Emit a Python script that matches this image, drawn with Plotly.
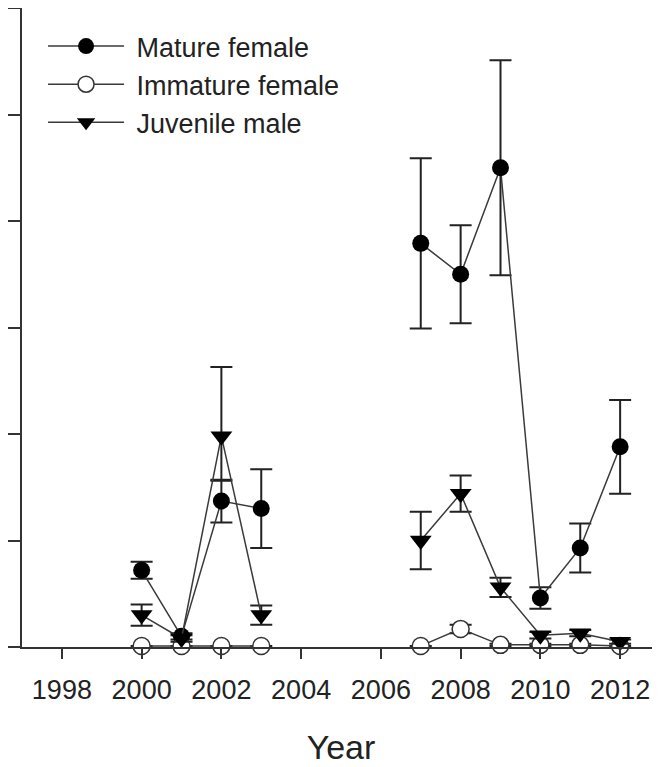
import plotly.graph_objects as go

# Years (2004-2006 not sampled -> gaps in the lines)
years = [2000, 2001, 2002, 2003, 2004, 2005, 2006, 2007, 2008, 2009, 2010, 2011, 2012]

# mean values (unlabelled y axis)
mature_female = [0.72, 0.10, 1.37, 1.30, None, None, None, 3.79, 3.50, 4.50, 0.46, 0.93, 1.88]
mature_female_err = [0.08, 0.03, 0.20, 0.37, None, None, None, 0.80, 0.46, 1.01, 0.10, 0.23, 0.44]

immature_female = [0.01, 0.01, 0.01, 0.01, None, None, None, 0.01, 0.17, 0.02, 0.02, 0.02, 0.01]
immature_female_err = [0.0, 0.0, 0.0, 0.0, None, None, None, 0.0, 0.04, 0.01, 0.01, 0.01, 0.0]

juvenile_male = [0.30, 0.08, 1.98, 0.30, None, None, None, 1.00, 1.44, 0.56, 0.11, 0.13, 0.05]
juvenile_male_err_up = [0.10, 0.03, 0.65, 0.09, None, None, None, 0.27, 0.17, 0.09, 0.03, 0.03, 0.02]
juvenile_male_err_down = [0.10, 0.03, 0.42, 0.09, None, None, None, 0.27, 0.17, 0.09, 0.03, 0.03, 0.02]

x_ticks = [1998, 2000, 2002, 2004, 2006, 2008, 2010, 2012]

line_col = '#3a3a3a'
pad = '\u00a0'  # small gap between legend line and label

fig = go.Figure()

fig.add_trace(go.Scatter(x=years, y=mature_female, name=pad + 'Mature female',
                         mode='lines+markers', legendgroup='a', cliponaxis=False,
                         line=dict(color=line_col, width=1.5),
                         marker=dict(symbol='circle', size=17, color='black'),
                         error_y=dict(type='data', array=mature_female_err, color='#222',
                                      thickness=2, width=11)))

fig.add_trace(go.Scatter(x=years, y=immature_female, name=pad + 'Immature female',
                         mode='lines+markers', legendgroup='b', cliponaxis=False,
                         line=dict(color=line_col, width=1.5),
                         marker=dict(symbol='circle', size=17, color='white',
                                     line=dict(color='#333', width=1.5)),
                         error_y=dict(type='data', array=immature_female_err, color='#222',
                                      thickness=2, width=11)))

fig.add_trace(go.Scatter(x=years, y=juvenile_male, name=pad + 'Juvenile male',
                         mode='lines+markers', legendgroup='c', cliponaxis=False,
                         line=dict(color=line_col, width=1.5),
                         marker=dict(symbol='triangle-down', size=19, color='black'),
                         error_y=dict(type='data', symmetric=False, array=juvenile_male_err_up,
                                      arrayminus=juvenile_male_err_down, color='#222',
                                      thickness=2, width=11)))

# page body adds an 8px offset, margins compensate for it
fig.update_layout(
    width=660, height=767,
    margin=dict(l=14, r=8, t=0, b=128, autoexpand=False),
    paper_bgcolor='white', plot_bgcolor='white',
    font=dict(family='Liberation Sans, Arial, sans-serif', color='#222', size=27),
    showlegend=True,
    legend=dict(x=0.033, y=0.978, xanchor='left', yanchor='top',
                bgcolor='rgba(0,0,0,0)', font=dict(size=27),
                tracegroupgap=0, itemwidth=76),
)

fig.update_xaxes(range=[1997, 2013], tickvals=x_ticks, ticks='outside', ticklen=10,
                 tickwidth=2, tickcolor='#333', showline=True, linecolor='#333',
                 linewidth=2, mirror=True, showgrid=False, zeroline=False,
                 automargin=False, tickfont=dict(size=27), ticklabelstandoff=8,
                 title=dict(text='Year', font=dict(size=34), standoff=31))

fig.update_yaxes(range=[0, 6], tickvals=[0, 1, 2, 3, 4, 5, 6], showticklabels=False,
                 ticks='outside', ticklen=13, tickwidth=2, tickcolor='#333',
                 showline=True, linecolor='#333', linewidth=2, showgrid=False,
                 zeroline=False, automargin=False)

fig.write_html("out.html")
